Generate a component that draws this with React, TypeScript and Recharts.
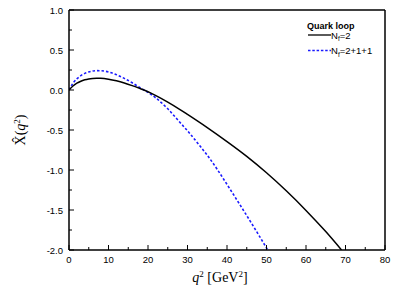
import React from "react";
import { LineChart, Line, XAxis, YAxis } from "recharts";

const qNf2 = [0, 1, 2, 3, 4, 5, 6, 7, 8, 10, 12, 14, 16, 18, 20, 22, 25, 28, 30, 35, 40, 45, 50, 55, 60, 65, 69];
const xNf2 = [0, 0.05, 0.085, 0.11, 0.127, 0.138, 0.144, 0.147, 0.146, 0.135, 0.115, 0.088, 0.055, 0.018, -0.022, -0.07, -0.151, -0.241, -0.305, -0.47, -0.645, -0.83, -1.035, -1.26, -1.505, -1.77, -2.0];

const qNf4 = [0, 1, 2, 3, 4, 5, 6, 7, 8, 10, 12, 14, 16, 18, 20, 22, 25, 28, 30, 33, 35, 37.5, 40, 42, 45, 48, 50.3];
const xNf4 = [0, 0.085, 0.14, 0.18, 0.208, 0.226, 0.237, 0.242, 0.241, 0.226, 0.192, 0.145, 0.09, 0.028, -0.03, -0.1, -0.235, -0.4, -0.51, -0.69, -0.815, -0.99, -1.18, -1.335, -1.57, -1.81, -2.0];

const xTicks = [0, 5, 10, 15, 20, 25, 30, 35, 40, 45, 50, 55, 60, 65, 70, 75, 80];
const yTicks = [-2, -1.75, -1.5, -1.25, -1, -0.75, -0.5, -0.25, 0, 0.25, 0.5, 0.75, 1];

const dataNf2 = qNf2.map((q, i) => ({ q, v: xNf2[i] }));
const dataNf4 = qNf4.map((q, i) => ({ q, v: xNf4[i] }));

const FONT = "'Liberation Sans', Arial, sans-serif";
const SERIF = "'Liberation Serif', 'Times New Roman', serif";

const isMajorX = (v: number) => Math.abs(v % 10) < 1e-9;
const isMajorY = (v: number) => Math.abs((v * 2) % 1) < 1e-9;

const BottomTick = (props: any) => {
  const { x, y, payload } = props;
  const major = isMajorX(payload.value);
  return (
    <g>
      <line x1={x} x2={x} y1={y} y2={y - (major ? 5 : 3)} stroke="#000" strokeWidth={1} />
      {major && (
        <text x={x} y={y + 13} textAnchor="middle" fontFamily={FONT} fontSize={9.5} fill="#000">
          {payload.value}
        </text>
      )}
    </g>
  );
};

const TopTick = (props: any) => {
  const { x, y, payload } = props;
  const major = isMajorX(payload.value);
  return <line x1={x} x2={x} y1={y} y2={y + (major ? 5 : 3)} stroke="#000" strokeWidth={1} />;
};

const LeftTick = (props: any) => {
  const { x, y, payload } = props;
  const major = isMajorY(payload.value);
  return (
    <g>
      <line x1={x} x2={x + (major ? 5 : 3)} y1={y} y2={y} stroke="#000" strokeWidth={1} />
      {major && (
        <text x={x - 6} y={y + 3.5} textAnchor="end" fontFamily={FONT} fontSize={9.5} fill="#000">
          {payload.value.toFixed(1)}
        </text>
      )}
    </g>
  );
};

const RightTick = (props: any) => {
  const { x, y, payload } = props;
  const major = isMajorY(payload.value);
  return <line x1={x} x2={x - (major ? 5 : 3)} y1={y} y2={y} stroke="#000" strokeWidth={1} />;
};

export default function App() {
  return (
    <div style={{ position: "absolute", left: 0, top: 0, width: 396, height: 291, background: "#fff" }}>
      <LineChart width={396} height={291} margin={{ top: 9, right: 10, bottom: 40, left: 68 }}>
        <XAxis
          xAxisId="b"
          type="number"
          dataKey="q"
          domain={[0, 80]}
          ticks={xTicks}
          interval={0}
          height={1}
          tickSize={0}
          tickMargin={0}
          tick={BottomTick}
          axisLine={{ stroke: "#000", strokeWidth: 1.5 }}
          allowDataOverflow
        />
        <XAxis
          xAxisId="t"
          orientation="top"
          type="number"
          dataKey="q"
          domain={[0, 80]}
          ticks={xTicks}
          interval={0}
          height={1}
          tickSize={0}
          tickMargin={0}
          tick={TopTick}
          axisLine={{ stroke: "#000", strokeWidth: 1.5 }}
        />
        <YAxis
          yAxisId="l"
          type="number"
          domain={[-2, 1]}
          ticks={yTicks}
          interval={0}
          width={1}
          tickSize={0}
          tickMargin={0}
          tick={LeftTick}
          axisLine={{ stroke: "#000", strokeWidth: 1.5 }}
          allowDataOverflow
        />
        <YAxis
          yAxisId="r"
          orientation="right"
          type="number"
          domain={[-2, 1]}
          ticks={yTicks}
          interval={0}
          width={1}
          tickSize={0}
          tickMargin={0}
          tick={RightTick}
          axisLine={{ stroke: "#000", strokeWidth: 1.5 }}
        />
        <Line
          xAxisId="b"
          yAxisId="l"
          data={dataNf4}
          dataKey="v"
          type="monotone"
          stroke="#1a1aff"
          strokeWidth={1.6}
          strokeDasharray="2.5 2"
          dot={false}
          isAnimationActive={false}
        />
        <Line
          xAxisId="b"
          yAxisId="l"
          data={dataNf2}
          dataKey="v"
          type="monotone"
          stroke="#000"
          strokeWidth={1.5}
          dot={false}
          isAnimationActive={false}
        />
      </LineChart>

      <svg width={396} height={291} style={{ position: "absolute", left: 0, top: 0, pointerEvents: "none" }}>
        <text
          transform="translate(25,130) rotate(-90)"
          textAnchor="middle"
          fontFamily={SERIF}
          fontSize={14}
          fill="#000"
        >
          <tspan>X̂(</tspan>
          <tspan fontStyle="italic">q</tspan>
          <tspan fontSize={9} dy={-5}>2</tspan>
          <tspan dy={5}>)</tspan>
        </text>
        <text x={220} y={282} textAnchor="middle" fontFamily={SERIF} fontSize={14} fill="#000">
          <tspan fontStyle="italic">q</tspan>
          <tspan fontSize={9} dy={-5}>2</tspan>
          <tspan dy={5}> [GeV</tspan>
          <tspan fontSize={9} dy={-5}>2</tspan>
          <tspan dy={5}>]</tspan>
        </text>
        <text x={307} y={29} fontFamily={FONT} fontSize={9} fontWeight="bold" fill="#000">
          Quark loop
        </text>
        <line x1={308} x2={331} y1={35} y2={35} stroke="#000" strokeWidth={1.3} />
        <text x={331} y={38.5} fontFamily={FONT} fontSize={9.5} fill="#000">
          <tspan>N</tspan>
          <tspan fontSize={6.5} dy={2.5}>f</tspan>
          <tspan dy={-2.5}>=2</tspan>
        </text>
        <line x1={308} x2={331} y1={50.5} y2={50.5} stroke="#1a1aff" strokeWidth={1.3} strokeDasharray="2.5 1.8" />
        <text x={331} y={54} fontFamily={FONT} fontSize={9.5} fill="#000">
          <tspan>N</tspan>
          <tspan fontSize={6.5} dy={2.5}>f</tspan>
          <tspan dy={-2.5}>=2+1+1</tspan>
        </text>
      </svg>
    </div>
  );
}
